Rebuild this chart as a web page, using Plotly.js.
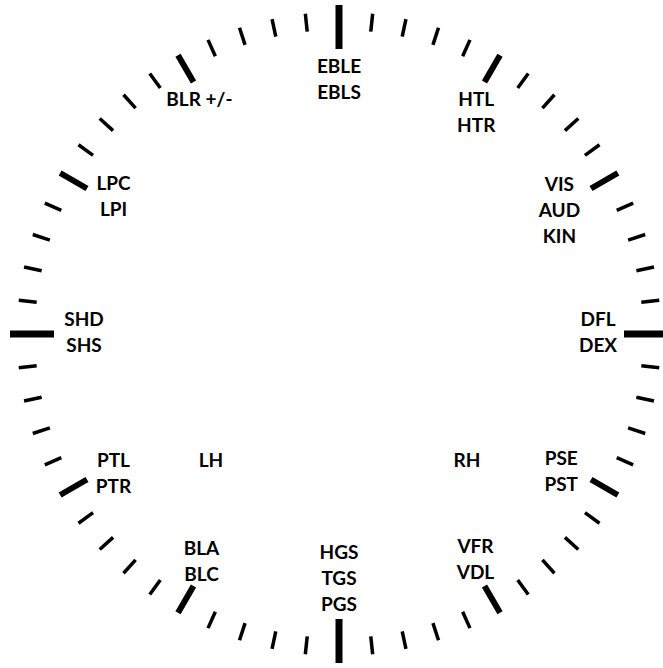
<!DOCTYPE html>
<html>
<head>
<meta charset="utf-8">
<script src="https://cdn.plot.ly/plotly-3.0.1.min.js"></script>
<style>html,body{margin:0;padding:0;background:#fff;}#chart{width:663px;height:668px;}</style>
</head>
<body>
<div id="chart"></div>
<script>
// Clock-face data
const tickCount = 60;               // tick marks around the dial
const labelLines = [
  ["EBLE", "EBLS"],
  ["HTL", "HTR"],
  ["VIS", "AUD", "KIN"],
  ["DFL", "DEX"],
  ["PSE", "PST"],
  ["VFR", "VDL"],
  ["HGS", "TGS", "PGS"],
  ["BLA", "BLC"],
  ["PTL", "PTR"],
  ["SHD", "SHS"],
  ["LPC", "LPI"],
  ["BLR +/-"],
  ["RH"],
  ["LH"]
];
const labelAngle = [0, 32, 61, 90, 122, 149, 180, 211, 238, 270, 301, 329, 135, 225]; // degrees clockwise from 12
const labelRadius = [253, 259, 252, 259, 262, 265, 246, 267, 266, 255, 263, 271, 181, 181];

// Styles
const R_OUT_CARD = 329, R_IN_CARD = 285, W_CARD = 7;
const R_OUT_MAJ = 322, R_IN_MAJ = 291, W_MAJ = 6;
const R_OUT_MIN = 322, R_IN_MIN = 304, W_MIN = 3.5;
const LINE_GAP = 26;

function seg(arrX, arrY, ang, r1, r2) {
  const a = ang * Math.PI / 180;
  arrX.push(r1 * Math.sin(a), r2 * Math.sin(a), null);
  arrY.push(r1 * Math.cos(a), r2 * Math.cos(a), null);
}
const card = {x: [], y: []}, maj = {x: [], y: []}, min = {x: [], y: []};
for (let i = 0; i < tickCount; i++) {
  const ang = i * 360 / tickCount;
  if (i % 15 === 0) seg(card.x, card.y, ang, R_IN_CARD, R_OUT_CARD);
  else if (i % 5 === 0) seg(maj.x, maj.y, ang, R_IN_MAJ, R_OUT_MAJ);
  else seg(min.x, min.y, ang, R_IN_MIN, R_OUT_MIN);
}
const tx = [], ty = [], tt = [];
labelLines.forEach((lines, k) => {
  const a = labelAngle[k] * Math.PI / 180;
  const cx = labelRadius[k] * Math.sin(a), cy = labelRadius[k] * Math.cos(a);
  lines.forEach((s, j) => {
    tx.push(cx);
    ty.push(cy - (j - (lines.length - 1) / 2) * LINE_GAP);
    tt.push(s);
  });
});

const lineTrace = (d, w) => ({x: d.x, y: d.y, mode: 'lines', type: 'scatter',
  line: {color: '#000', width: w}, hoverinfo: 'skip', showlegend: false});
const data = [
  lineTrace(min, W_MIN), lineTrace(maj, W_MAJ), lineTrace(card, W_CARD),
  {x: tx, y: ty, text: tt, mode: 'text', type: 'scatter', textposition: 'middle center',
   textfont: {family: 'Lato, "Open Sans", sans-serif', size: 19, color: '#000', weight: 'bold'},
   hoverinfo: 'skip', showlegend: false}
];
const layout = {
  width: 663, height: 668,
  margin: {l: 0, r: 0, t: 0, b: 0},
  paper_bgcolor: '#fff', plot_bgcolor: '#fff',
  xaxis: {range: [-339, 324], visible: false, fixedrange: true},
  yaxis: {range: [-334, 334], visible: false, fixedrange: true},
  showlegend: false
};
Plotly.newPlot('chart', data, layout, {staticPlot: true, displayModeBar: false});
</script>
</body>
</html>
